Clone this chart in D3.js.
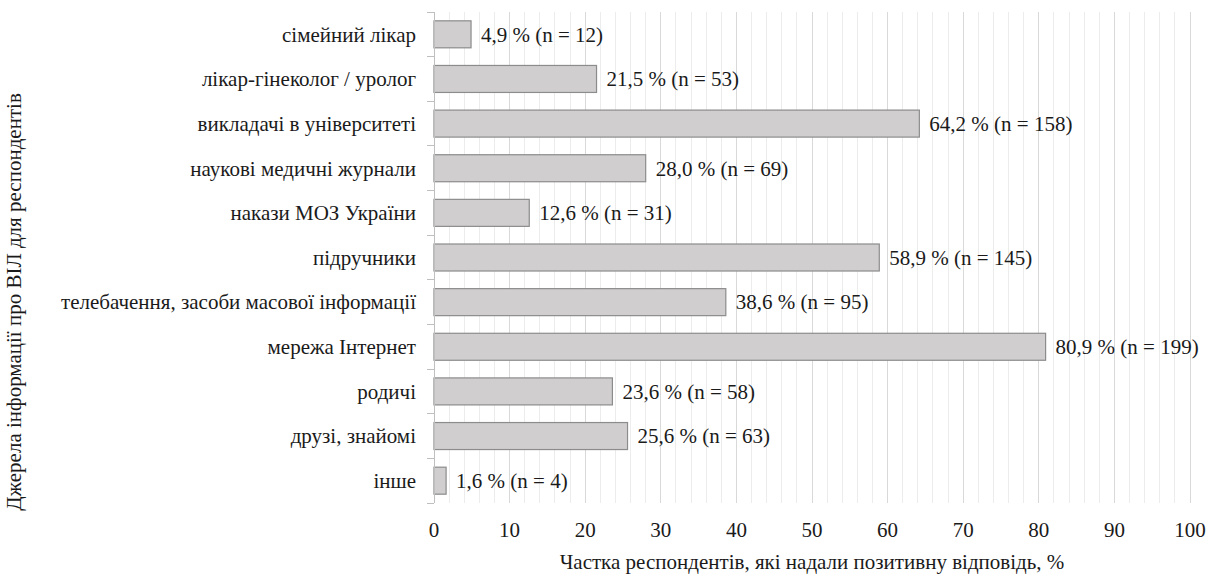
<!DOCTYPE html>
<html>
<head>
<meta charset="utf-8">
<script src="https://cdn.jsdelivr.net/npm/d3@7"></script>
</head>
<body style="margin:0">
<svg id="bars" width="1218" height="577"></svg>
<script>
// Sources of information about the topic, share of respondents (%) and counts
const categories = [
  "сімейний лікар",
  "лікар-гінеколог / уролог",
  "викладачі в університеті",
  "наукові медичні журнали",
  "накази МОЗ України",
  "підручники",
  "телебачення, засоби масової інформації",
  "мережа Інтернет",
  "родичі",
  "друзі, знайомі",
  "інше"
];
const percents = [4.9, 21.5, 64.2, 28.0, 12.6, 58.9, 38.6, 80.9, 23.6, 25.6, 1.6];
const counts = [12, 53, 158, 69, 31, 145, 95, 199, 58, 63, 4];
const xTicks = [0, 10, 20, 30, 40, 50, 60, 70, 80, 90, 100];
const minorTicks = d3.range(0, 101, 2);

const xTitle = "Частка респондентів, які надали позитивну відповідь, %";
const yTitle = "Джерела інформації про ВІЛ для респондентів";

const FS = 21;
const INK = "#1a1a1a";

const svg = d3.select("#bars");
const plotLeft = 434, plotRight = 1190, plotTop = 12, plotBottom = 503;

const x = d3.scaleLinear().domain([0, 100]).range([plotLeft, plotRight]);
const y = d3.scaleBand().domain(categories).range([plotTop, plotBottom]).paddingInner(0.395).paddingOuter(0.1975);

// vertical gridlines: every 2 units, darker every 10
svg.append("g").selectAll("line").data(minorTicks).join("line")
  .attr("x1", d => x(d)).attr("x2", d => x(d))
  .attr("y1", plotTop).attr("y2", plotBottom)
  .attr("stroke", d => d % 10 === 0 ? "#d9d9d9" : "#ececec")
  .attr("stroke-width", 1)
  .attr("shape-rendering", "crispEdges");

// bars
svg.append("g").selectAll("rect").data(categories).join("rect")
  .attr("x", x(0))
  .attr("y", d => y(d))
  .attr("width", (d, i) => x(percents[i]) - x(0))
  .attr("height", y.bandwidth())
  .attr("fill", "#d0cecf")
  .attr("stroke", "#8c8c8c")
  .attr("stroke-width", 1.2);

function txt(sel) {
  return sel.style("font-family", d => '"Liberation Serif"').attr("font-size", FS).attr("fill", INK);
}

// value labels
const fmt = v => v.toFixed(1).replace(".", ",");
svg.append("g").selectAll("text").data(categories).join("text")
  .call(txt)
  .attr("x", (d, i) => x(percents[i]) + 10)
  .attr("y", d => y(d) + y.bandwidth() / 2)
  .attr("dy", "0.35em")
  .text((d, i) => `${fmt(percents[i])} % (n = ${counts[i]})`);

// left axis with ticks at band boundaries
const yAxis = svg.append("g");
yAxis.append("line")
  .attr("x1", plotLeft).attr("x2", plotLeft).attr("y1", plotTop).attr("y2", plotBottom)
  .attr("stroke", "#bfbfbf").attr("shape-rendering", "crispEdges");
const step = (plotBottom - plotTop) / categories.length;
yAxis.selectAll("line.tick").data(d3.range(categories.length + 1)).join("line")
  .attr("class", "tick")
  .attr("x1", plotLeft - 7).attr("x2", plotLeft)
  .attr("y1", i => plotTop + i * step).attr("y2", i => plotTop + i * step)
  .attr("stroke", "#bfbfbf").attr("shape-rendering", "crispEdges");

// category labels
svg.append("g").selectAll("text").data(categories).join("text")
  .call(txt)
  .attr("x", 416)
  .attr("y", d => y(d) + y.bandwidth() / 2)
  .attr("dy", "0.35em")
  .attr("text-anchor", "end")
  .text(d => d);

// x tick labels
svg.append("g").selectAll("text").data(xTicks).join("text")
  .call(txt)
  .attr("x", d => x(d))
  .attr("y", 537)
  .attr("text-anchor", "middle")
  .text(d => d);

// axis titles
svg.append("text")
  .call(txt)
  .attr("x", (plotLeft + plotRight) / 2).attr("y", 569)
  .attr("text-anchor", "middle")
  .text(xTitle);

svg.append("text")
  .call(txt)
  .attr("transform", "translate(21,302) rotate(-90)")
  .attr("text-anchor", "middle")
  .text(yTitle);
</script>
</body>
</html>
